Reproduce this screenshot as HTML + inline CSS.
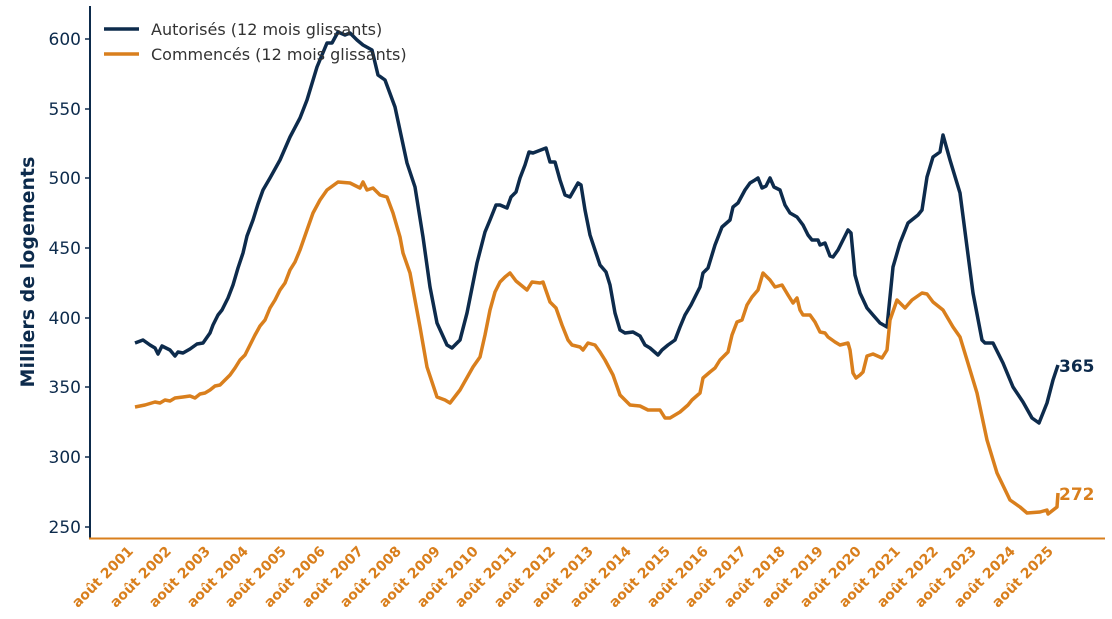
<!DOCTYPE html>
<html><head><meta charset="utf-8"><style>
html,body{margin:0;padding:0;background:#fff;}
svg{display:block;font-family:"DejaVu Sans","Liberation Sans",sans-serif;}
</style></head><body>
<svg width="1112" height="619" viewBox="0 0 1112 619" xmlns="http://www.w3.org/2000/svg">
<rect width="1112" height="619" fill="#fff"/>
<!-- axes -->
<line x1="90" y1="6" x2="90" y2="539" stroke="#0d2b4c" stroke-width="2"/>
<line x1="89" y1="538.5" x2="1105" y2="538.5" stroke="#d97f1d" stroke-width="2"/>
<g stroke="#0d2b4c" stroke-width="1.5">
<line x1="85" y1="39" x2="90" y2="39"/><line x1="85" y1="109" x2="90" y2="109"/><line x1="85" y1="178" x2="90" y2="178"/><line x1="85" y1="248" x2="90" y2="248"/><line x1="85" y1="318" x2="90" y2="318"/><line x1="85" y1="387" x2="90" y2="387"/><line x1="85" y1="457" x2="90" y2="457"/><line x1="85" y1="527" x2="90" y2="527"/>
</g>
<g fill="#0d2b4c" font-size="17" text-anchor="end">
<text x="81" y="45">600</text><text x="81" y="115">550</text><text x="81" y="184">500</text><text x="81" y="254">450</text><text x="81" y="324">400</text><text x="81" y="393">350</text><text x="81" y="463">300</text><text x="81" y="533">250</text>
</g>
<text transform="translate(34,272) rotate(-90)" text-anchor="middle" font-size="19" font-weight="bold" fill="#0d2b4c">Milliers de logements</text>
<!-- x labels -->
<g fill="#d97f1d" font-size="14" font-weight="bold" text-anchor="end">
<text transform="translate(134,552) rotate(-45)">août 2001</text>
<text transform="translate(172,552) rotate(-45)">août 2002</text>
<text transform="translate(211,552) rotate(-45)">août 2003</text>
<text transform="translate(249,552) rotate(-45)">août 2004</text>
<text transform="translate(287,552) rotate(-45)">août 2005</text>
<text transform="translate(326,552) rotate(-45)">août 2006</text>
<text transform="translate(364,552) rotate(-45)">août 2007</text>
<text transform="translate(402,552) rotate(-45)">août 2008</text>
<text transform="translate(441,552) rotate(-45)">août 2009</text>
<text transform="translate(479,552) rotate(-45)">août 2010</text>
<text transform="translate(517,552) rotate(-45)">août 2011</text>
<text transform="translate(556,552) rotate(-45)">août 2012</text>
<text transform="translate(594,552) rotate(-45)">août 2013</text>
<text transform="translate(632,552) rotate(-45)">août 2014</text>
<text transform="translate(671,552) rotate(-45)">août 2015</text>
<text transform="translate(709,552) rotate(-45)">août 2016</text>
<text transform="translate(747,552) rotate(-45)">août 2017</text>
<text transform="translate(786,552) rotate(-45)">août 2018</text>
<text transform="translate(824,552) rotate(-45)">août 2019</text>
<text transform="translate(862,552) rotate(-45)">août 2020</text>
<text transform="translate(901,552) rotate(-45)">août 2021</text>
<text transform="translate(939,552) rotate(-45)">août 2022</text>
<text transform="translate(977,552) rotate(-45)">août 2023</text>
<text transform="translate(1016,552) rotate(-45)">août 2024</text>
<text transform="translate(1054,552) rotate(-45)">août 2025</text>
</g>
<!-- series -->
<polyline fill="none" stroke="#0d2b4c" stroke-width="3.5" stroke-linejoin="round" points="135,343 143,340 150,345 155,348 158,354 162,346 170,350 175,356 178,352 183,353 190,349 197,344 203,343 210,333 213,325 218,315 222,310 228,298 233,285 238,268 243,253 247,236 253,220 258,204 263,190 270,178 280,160 290,137 300,118 307,100 317,67 327,43 332,43 338,32 345,35 350,33 357,40 363,45 372,50 378,75 385,80 395,107 407,163 415,187 423,237 430,287 437,323 447,345 452,348 460,340 467,313 477,263 485,232 490,220 496,205 500,205 507,208 511,197 516,192 520,178 525,165 529,152 533,153 546,148 550,162 555,162 560,180 565,195 570,197 578,183 581,185 585,210 590,235 600,265 606,272 610,285 615,313 620,330 625,333 633,332 640,336 645,345 650,348 658,355 662,350 668,345 675,340 680,327 685,315 691,305 700,287 703,273 708,268 715,245 722,227 730,220 733,207 738,203 745,190 750,183 755,180 758,178 762,188 766,186 770,178 774,187 780,190 785,205 790,213 797,217 803,225 808,235 812,240 818,240 820,245 825,243 830,256 833,257 838,250 843,240 848,230 851,233 855,275 860,293 867,308 873,315 880,323 887,327 893,267 900,243 908,223 918,215 922,210 927,177 933,157 940,152 943,135 950,160 960,193 967,247 973,293 982,340 985,343 993,343 1003,363 1013,387 1023,402 1032,418 1039,423 1047,403 1053,380 1058,365"/>
<polyline fill="none" stroke="#d97f1d" stroke-width="3.5" stroke-linejoin="round" points="135,407 145,405 155,402 160,403 165,400 170,401 175,398 183,397 190,396 195,398 200,394 205,393 210,390 215,386 220,385 225,380 230,375 235,368 240,360 245,355 250,345 255,335 260,326 265,320 270,308 275,300 280,290 285,283 290,270 295,262 300,250 307,230 313,213 320,200 327,190 338,182 350,183 360,188 363,182 367,190 373,188 380,195 387,197 393,213 400,237 403,253 410,273 420,327 427,367 437,397 445,400 450,403 460,390 473,367 480,357 485,335 490,310 495,292 500,282 505,277 510,273 516,281 527,290 532,282 540,283 543,282 550,302 556,308 562,325 568,340 572,345 580,347 583,350 588,343 595,345 600,352 605,360 613,375 620,395 630,405 640,406 648,410 660,410 665,418 670,418 675,415 680,412 688,405 692,400 700,393 703,378 710,372 715,368 720,360 728,352 732,335 737,322 742,320 747,305 752,297 758,290 763,273 770,280 775,287 782,285 788,295 793,303 797,298 800,310 803,315 810,315 815,322 820,332 825,333 828,337 835,342 840,345 848,343 850,350 853,373 856,378 860,375 863,372 867,356 873,354 882,358 887,350 890,320 897,300 905,308 912,300 922,293 927,294 933,302 943,310 953,327 960,337 967,360 977,393 987,440 997,473 1010,500 1020,507 1027,513 1040,512 1047,510 1048,514 1057,507 1058,493"/>
<text x="1059" y="372" font-size="17" font-weight="bold" fill="#0d2b4c">365</text>
<text x="1059" y="500" font-size="17" font-weight="bold" fill="#d97f1d">272</text>
<!-- legend -->
<line x1="104" y1="29" x2="139" y2="29" stroke="#0d2b4c" stroke-width="3.5"/>
<line x1="104" y1="54" x2="139" y2="54" stroke="#d97f1d" stroke-width="3.5"/>
<text x="151" y="35" font-size="16" fill="#333">Autorisés (12 mois glissants)</text>
<text x="151" y="60" font-size="16" fill="#333">Commencés (12 mois glissants)</text>
</svg>
</body></html>
